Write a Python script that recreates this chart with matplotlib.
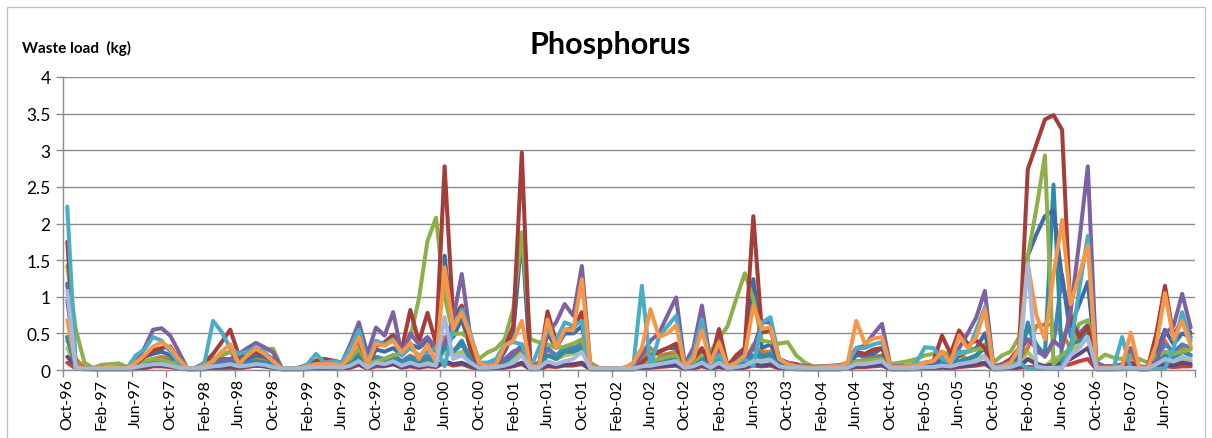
import numpy as np
import matplotlib
matplotlib.use("Agg")
import matplotlib.pyplot as plt
from matplotlib.patches import Rectangle
from matplotlib.ticker import FuncFormatter

plt.rcParams['font.family'] = ['Lato', 'DejaVu Sans']

# Monthly categories Oct-96 .. Sep-07
months = ['Oct', 'Nov', 'Dec', 'Jan', 'Feb', 'Mar', 'Apr', 'May', 'Jun', 'Jul', 'Aug', 'Sep']
categories = []
for wy in range(1996, 2007):
    for k, m in enumerate(months):
        yr = wy if k < 3 else wy + 1
        categories.append(f"{m}-{yr % 100:02d}")

red_low = [
    0.10, 0.02, 0.01, 0.01, 0.01, 0.01, 0.01, 0.01, 0.01, 0.02, 0.05, 0.05,
    0.04, 0.02, 0.01, 0.01, 0.01, 0.02, 0.02, 0.03, 0.02, 0.04, 0.06, 0.05,
    0.03, 0.01, 0.01, 0.01, 0.01, 0.02, 0.02, 0.02, 0.01, 0.03, 0.07, 0.02,
    0.05, 0.05, 0.08, 0.03, 0.05, 0.03, 0.05, 0.04, 0.10, 0.06, 0.08, 0.04,
    0.01, 0.01, 0.02, 0.03, 0.05, 0.08, 0.01, 0.01, 0.05, 0.04, 0.06, 0.06,
    0.08, 0.01, 0.01, 0.01, 0.01, 0.01, 0.01, 0.02, 0.03, 0.04, 0.05, 0.06,
    0.01, 0.02, 0.05, 0.02, 0.04, 0.01, 0.02, 0.03, 0.06, 0.05, 0.06, 0.02,
    0.02, 0.01, 0.01, 0.01, 0.01, 0.01, 0.01, 0.02, 0.04, 0.04, 0.05, 0.06,
    0.01, 0.01, 0.01, 0.01, 0.02, 0.02, 0.03, 0.02, 0.04, 0.05, 0.06, 0.08,
    0.01, 0.01, 0.02, 0.03, 0.04, 0.04, 0.04, 0.05, 0.06, 0.08, 0.12, 0.15,
    0.01, 0.01, 0.01, 0.01, 0.02, 0.01, 0.01, 0.02, 0.05, 0.04, 0.05, 0.05,
]

green_low = [
    0.30, 0.04, 0.02, 0.02, 0.02, 0.02, 0.02, 0.02, 0.04, 0.08, 0.10, 0.10,
    0.08, 0.04, 0.02, 0.02, 0.03, 0.06, 0.10, 0.12, 0.10, 0.12, 0.15, 0.15,
    0.10, 0.02, 0.02, 0.02, 0.03, 0.05, 0.05, 0.05, 0.04, 0.08, 0.15, 0.04,
    0.12, 0.10, 0.15, 0.10, 0.15, 0.10, 0.12, 0.10, 0.25, 0.20, 0.25, 0.15,
    0.03, 0.03, 0.04, 0.08, 0.15, 0.25, 0.02, 0.03, 0.20, 0.15, 0.20, 0.22,
    0.30, 0.02, 0.02, 0.02, 0.02, 0.02, 0.02, 0.05, 0.08, 0.10, 0.12, 0.15,
    0.03, 0.06, 0.12, 0.04, 0.12, 0.02, 0.05, 0.08, 0.15, 0.15, 0.18, 0.06,
    0.04, 0.03, 0.02, 0.02, 0.02, 0.02, 0.02, 0.03, 0.10, 0.10, 0.12, 0.14,
    0.02, 0.02, 0.02, 0.03, 0.04, 0.05, 0.08, 0.06, 0.10, 0.12, 0.15, 0.20,
    0.02, 0.03, 0.04, 0.08, 0.25, 0.10, 0.05, 0.15, 0.20, 0.25, 0.35, 0.42,
    0.02, 0.02, 0.02, 0.03, 0.04, 0.02, 0.02, 0.06, 0.12, 0.10, 0.15, 0.12,
]

purple_low = [
    0.18, 0.06, 0.02, 0.01, 0.01, 0.01, 0.01, 0.01, 0.02, 0.04, 0.06, 0.06,
    0.05, 0.03, 0.01, 0.01, 0.02, 0.03, 0.04, 0.05, 0.04, 0.05, 0.06, 0.05,
    0.03, 0.01, 0.01, 0.01, 0.02, 0.03, 0.03, 0.03, 0.02, 0.04, 0.08, 0.02,
    0.07, 0.06, 0.08, 0.04, 0.06, 0.04, 0.06, 0.05, 0.12, 0.08, 0.10, 0.05,
    0.02, 0.02, 0.02, 0.04, 0.06, 0.10, 0.01, 0.02, 0.06, 0.05, 0.07, 0.08,
    0.10, 0.01, 0.01, 0.01, 0.01, 0.01, 0.01, 0.03, 0.04, 0.05, 0.06, 0.07,
    0.02, 0.03, 0.06, 0.02, 0.05, 0.01, 0.03, 0.04, 0.08, 0.06, 0.08, 0.03,
    0.02, 0.02, 0.01, 0.01, 0.01, 0.01, 0.01, 0.02, 0.05, 0.05, 0.06, 0.07,
    0.01, 0.01, 0.01, 0.02, 0.02, 0.03, 0.04, 0.03, 0.05, 0.06, 0.08, 0.10,
    0.01, 0.02, 0.02, 0.04, 0.15, 0.08, 0.05, 0.08, 0.10, 0.15, 0.22, 0.30,
    0.01, 0.01, 0.01, 0.02, 0.03, 0.01, 0.01, 0.04, 0.08, 0.06, 0.10, 0.08,
]

dark_orange = [
    0.40, 0.15, 0.03, 0.02, 0.02, 0.03, 0.02, 0.02, 0.05, 0.10, 0.15, 0.18,
    0.15, 0.08, 0.02, 0.02, 0.04, 0.08, 0.12, 0.15, 0.08, 0.10, 0.15, 0.12,
    0.07, 0.02, 0.02, 0.02, 0.03, 0.05, 0.05, 0.05, 0.04, 0.10, 0.22, 0.05,
    0.15, 0.15, 0.20, 0.12, 0.20, 0.10, 0.18, 0.10, 0.45, 0.25, 0.35, 0.20,
    0.04, 0.04, 0.05, 0.15, 0.20, 0.30, 0.03, 0.04, 0.30, 0.15, 0.25, 0.25,
    0.40, 0.03, 0.02, 0.02, 0.02, 0.02, 0.04, 0.12, 0.30, 0.20, 0.22, 0.25,
    0.04, 0.08, 0.22, 0.06, 0.18, 0.03, 0.06, 0.10, 0.35, 0.25, 0.25, 0.08,
    0.05, 0.04, 0.03, 0.02, 0.02, 0.03, 0.03, 0.05, 0.25, 0.15, 0.18, 0.20,
    0.02, 0.02, 0.03, 0.04, 0.05, 0.06, 0.10, 0.05, 0.20, 0.15, 0.20, 0.35,
    0.02, 0.04, 0.06, 0.15, 0.30, 0.60, 0.62, 0.62, 0.50, 0.30, 0.50, 0.60,
    0.02, 0.03, 0.03, 0.04, 0.20, 0.02, 0.02, 0.15, 0.40, 0.20, 0.30, 0.20,
]

blue_light = [
    0.45, 0.04, 0.02, 0.02, 0.02, 0.02, 0.02, 0.02, 0.06, 0.10, 0.14, 0.15,
    0.12, 0.06, 0.02, 0.02, 0.04, 0.08, 0.10, 0.12, 0.08, 0.10, 0.12, 0.10,
    0.08, 0.02, 0.02, 0.02, 0.03, 0.05, 0.05, 0.05, 0.04, 0.10, 0.20, 0.05,
    0.18, 0.15, 0.20, 0.12, 0.18, 0.15, 0.20, 0.15, 0.35, 0.25, 0.35, 0.15,
    0.04, 0.04, 0.05, 0.12, 0.25, 0.30, 0.04, 0.04, 0.30, 0.20, 0.30, 0.30,
    0.35, 0.03, 0.02, 0.02, 0.02, 0.02, 0.03, 0.06, 0.12, 0.15, 0.20, 0.20,
    0.04, 0.08, 0.15, 0.05, 0.20, 0.03, 0.08, 0.12, 0.30, 0.20, 0.22, 0.08,
    0.05, 0.04, 0.03, 0.02, 0.02, 0.03, 0.03, 0.04, 0.12, 0.12, 0.15, 0.18,
    0.02, 0.02, 0.03, 0.04, 0.05, 0.06, 0.10, 0.07, 0.12, 0.15, 0.20, 0.30,
    0.02, 0.04, 0.05, 0.10, 0.65, 0.25, 0.20, 0.35, 1.30, 0.45, 0.50, 0.62,
    0.02, 0.03, 0.03, 0.04, 0.05, 0.02, 0.02, 0.15, 0.35, 0.25, 0.35, 0.30,
]

teal = [
    0.45, 0.03, 0.02, 0.02, 0.02, 0.02, 0.02, 0.02, 0.05, 0.08, 0.12, 0.12,
    0.10, 0.05, 0.02, 0.02, 0.04, 0.10, 0.12, 0.12, 0.08, 0.10, 0.12, 0.10,
    0.06, 0.02, 0.02, 0.02, 0.03, 0.06, 0.05, 0.05, 0.04, 0.10, 0.20, 0.05,
    0.15, 0.12, 0.15, 0.10, 0.15, 0.12, 0.15, 0.12, 0.30, 0.25, 0.40, 0.15,
    0.04, 0.04, 0.05, 0.10, 0.20, 0.35, 0.03, 0.05, 0.20, 0.15, 0.25, 0.25,
    0.30, 0.02, 0.02, 0.02, 0.02, 0.02, 0.03, 0.08, 0.10, 0.12, 0.15, 0.18,
    0.04, 0.08, 0.15, 0.05, 0.15, 0.03, 0.06, 0.10, 0.20, 0.18, 0.20, 0.08,
    0.05, 0.04, 0.03, 0.02, 0.02, 0.03, 0.03, 0.04, 0.12, 0.12, 0.15, 0.18,
    0.02, 0.02, 0.03, 0.04, 0.06, 0.07, 0.08, 0.07, 0.12, 0.15, 0.20, 0.30,
    0.02, 0.03, 0.05, 0.10, 0.60, 0.35, 0.20, 2.53, 0.10, 0.35, 0.40, 0.55,
    0.02, 0.03, 0.03, 0.05, 0.05, 0.02, 0.02, 0.10, 0.20, 0.15, 0.25, 0.20,
]

blue = [
    1.18, 0.05, 0.02, 0.02, 0.02, 0.03, 0.03, 0.03, 0.10, 0.18, 0.22, 0.25,
    0.20, 0.10, 0.02, 0.02, 0.06, 0.15, 0.20, 0.25, 0.15, 0.15, 0.20, 0.18,
    0.12, 0.02, 0.02, 0.02, 0.05, 0.08, 0.08, 0.08, 0.06, 0.15, 0.30, 0.07,
    0.28, 0.25, 0.30, 0.20, 0.35, 0.30, 0.40, 0.25, 1.56, 0.45, 0.70, 0.30,
    0.05, 0.06, 0.08, 0.25, 0.50, 1.85, 0.05, 0.05, 0.50, 0.30, 0.50, 0.50,
    0.60, 0.04, 0.02, 0.02, 0.02, 0.03, 0.04, 0.10, 0.20, 0.25, 0.30, 0.30,
    0.05, 0.12, 0.25, 0.08, 0.30, 0.04, 0.12, 0.25, 1.24, 0.30, 0.35, 0.12,
    0.08, 0.06, 0.04, 0.03, 0.03, 0.04, 0.04, 0.06, 0.20, 0.20, 0.22, 0.30,
    0.03, 0.03, 0.04, 0.05, 0.08, 0.10, 0.15, 0.10, 0.20, 0.25, 0.30, 0.50,
    0.03, 0.05, 0.08, 0.20, 1.56, 1.85, 2.10, 2.18, 1.25, 0.60, 0.90, 1.20,
    0.02, 0.04, 0.04, 0.05, 0.08, 0.03, 0.03, 0.25, 0.55, 0.35, 0.50, 0.45,
]

green = [
    1.42, 0.55, 0.10, 0.03, 0.07, 0.08, 0.09, 0.04, 0.05, 0.12, 0.15, 0.14,
    0.10, 0.08, 0.02, 0.03, 0.08, 0.15, 0.20, 0.25, 0.20, 0.20, 0.25, 0.28,
    0.29, 0.03, 0.02, 0.03, 0.07, 0.08, 0.10, 0.10, 0.08, 0.15, 0.30, 0.08,
    0.12, 0.15, 0.20, 0.22, 0.45, 0.97, 1.76, 2.08, 1.00, 0.49, 0.50, 0.42,
    0.15, 0.24, 0.29, 0.42, 0.83, 1.88, 0.42, 0.38, 0.35, 0.30, 0.32, 0.36,
    0.42, 0.10, 0.03, 0.02, 0.02, 0.03, 0.05, 0.10, 0.12, 0.15, 0.18, 0.20,
    0.08, 0.12, 0.20, 0.25, 0.43, 0.60, 0.97, 1.32, 0.97, 0.40, 0.38, 0.36,
    0.38, 0.20, 0.10, 0.05, 0.05, 0.06, 0.07, 0.08, 0.12, 0.12, 0.14, 0.15,
    0.08, 0.10, 0.12, 0.15, 0.20, 0.22, 0.25, 0.20, 0.22, 0.25, 0.28, 0.30,
    0.10, 0.20, 0.25, 0.45, 1.55, 2.20, 2.93, 0.08, 0.20, 0.30, 0.63, 0.68,
    0.12, 0.21, 0.17, 0.15, 0.20, 0.15, 0.10, 0.20, 0.25, 0.22, 0.25, 0.28,
]

red = [
    1.75, 0.05, 0.02, 0.02, 0.03, 0.04, 0.03, 0.03, 0.08, 0.18, 0.27, 0.30,
    0.32, 0.15, 0.02, 0.03, 0.10, 0.22, 0.38, 0.55, 0.20, 0.20, 0.25, 0.22,
    0.15, 0.02, 0.02, 0.03, 0.07, 0.13, 0.15, 0.13, 0.10, 0.25, 0.40, 0.10,
    0.33, 0.38, 0.48, 0.28, 0.82, 0.38, 0.78, 0.36, 2.78, 0.72, 0.88, 0.29,
    0.06, 0.08, 0.12, 0.30, 0.60, 2.97, 0.05, 0.05, 0.80, 0.38, 0.55, 0.56,
    0.79, 0.05, 0.02, 0.02, 0.02, 0.03, 0.05, 0.10, 0.20, 0.25, 0.30, 0.36,
    0.06, 0.15, 0.30, 0.10, 0.56, 0.05, 0.20, 0.30, 2.10, 0.51, 0.55, 0.15,
    0.10, 0.08, 0.05, 0.04, 0.04, 0.05, 0.05, 0.08, 0.25, 0.22, 0.28, 0.30,
    0.04, 0.04, 0.05, 0.06, 0.10, 0.12, 0.47, 0.22, 0.54, 0.35, 0.40, 0.30,
    0.04, 0.08, 0.15, 0.30, 2.74, 3.08, 3.42, 3.48, 3.28, 0.72, 0.45, 0.60,
    0.03, 0.05, 0.05, 0.06, 0.10, 0.03, 0.04, 0.50, 1.15, 0.45, 0.70, 0.50,
]

purple = [
    0.95, 0.06, 0.03, 0.02, 0.03, 0.03, 0.03, 0.03, 0.10, 0.30, 0.55, 0.57,
    0.47, 0.25, 0.02, 0.03, 0.08, 0.12, 0.15, 0.15, 0.22, 0.30, 0.37, 0.31,
    0.24, 0.02, 0.02, 0.03, 0.06, 0.08, 0.10, 0.10, 0.10, 0.35, 0.65, 0.22,
    0.58, 0.47, 0.79, 0.22, 0.50, 0.35, 0.45, 0.30, 0.35, 0.70, 1.31, 0.45,
    0.10, 0.06, 0.10, 0.15, 0.25, 0.30, 0.05, 0.10, 0.50, 0.65, 0.90, 0.74,
    1.42, 0.06, 0.02, 0.02, 0.02, 0.03, 0.05, 0.20, 0.40, 0.50, 0.75, 0.99,
    0.08, 0.30, 0.88, 0.10, 0.30, 0.05, 0.10, 0.15, 0.30, 0.65, 0.65, 0.15,
    0.10, 0.06, 0.05, 0.04, 0.05, 0.05, 0.06, 0.10, 0.30, 0.33, 0.49, 0.63,
    0.05, 0.05, 0.06, 0.07, 0.10, 0.12, 0.20, 0.15, 0.30, 0.50, 0.72, 1.08,
    0.05, 0.08, 0.12, 0.25, 0.42, 0.30, 0.18, 0.40, 0.30, 0.80, 1.75, 2.78,
    0.10, 0.05, 0.05, 0.08, 0.30, 0.05, 0.04, 0.10, 0.50, 0.60, 1.04, 0.58,
]

cyan = [
    2.23, 0.02, 0.02, 0.02, 0.02, 0.02, 0.02, 0.03, 0.20, 0.28, 0.45, 0.40,
    0.25, 0.10, 0.02, 0.02, 0.10, 0.67, 0.52, 0.30, 0.22, 0.25, 0.30, 0.25,
    0.12, 0.02, 0.02, 0.02, 0.08, 0.22, 0.10, 0.12, 0.10, 0.30, 0.55, 0.10,
    0.40, 0.35, 0.42, 0.20, 0.30, 0.20, 0.25, 0.30, 0.05, 0.55, 0.83, 0.50,
    0.10, 0.10, 0.15, 0.35, 0.38, 0.35, 0.02, 0.30, 0.55, 0.40, 0.65, 0.60,
    0.67, 0.03, 0.02, 0.02, 0.02, 0.02, 0.05, 1.15, 0.05, 0.45, 0.60, 0.74,
    0.05, 0.20, 0.69, 0.08, 0.20, 0.04, 0.10, 0.15, 0.05, 0.65, 0.72, 0.15,
    0.08, 0.05, 0.04, 0.03, 0.03, 0.04, 0.05, 0.08, 0.30, 0.30, 0.35, 0.38,
    0.03, 0.03, 0.05, 0.10, 0.31, 0.30, 0.15, 0.10, 0.25, 0.25, 0.55, 0.86,
    0.03, 0.05, 0.08, 0.10, 0.02, 0.02, 0.02, 0.02, 0.05, 0.30, 1.10, 1.83,
    0.02, 0.03, 0.03, 0.45, 0.02, 0.02, 0.02, 0.02, 0.02, 0.30, 0.79, 0.40,
]

orange = [
    0.68, 0.05, 0.02, 0.02, 0.03, 0.05, 0.03, 0.03, 0.10, 0.20, 0.32, 0.38,
    0.30, 0.15, 0.02, 0.02, 0.06, 0.12, 0.25, 0.35, 0.08, 0.20, 0.29, 0.22,
    0.12, 0.02, 0.02, 0.02, 0.05, 0.08, 0.08, 0.08, 0.06, 0.20, 0.45, 0.08,
    0.36, 0.33, 0.40, 0.24, 0.37, 0.15, 0.35, 0.10, 1.40, 0.56, 0.78, 0.46,
    0.10, 0.05, 0.08, 0.33, 0.40, 0.67, 0.05, 0.05, 0.69, 0.30, 0.55, 0.54,
    1.24, 0.05, 0.02, 0.02, 0.02, 0.03, 0.10, 0.30, 0.83, 0.45, 0.50, 0.61,
    0.05, 0.15, 0.54, 0.10, 0.38, 0.05, 0.10, 0.20, 0.88, 0.56, 0.58, 0.15,
    0.08, 0.05, 0.04, 0.03, 0.04, 0.05, 0.05, 0.10, 0.67, 0.36, 0.43, 0.45,
    0.04, 0.04, 0.05, 0.06, 0.10, 0.12, 0.25, 0.10, 0.47, 0.30, 0.45, 0.83,
    0.03, 0.05, 0.10, 0.30, 1.45, 0.75, 0.42, 1.30, 2.05, 0.90, 1.30, 1.70,
    0.03, 0.03, 0.03, 0.05, 0.51, 0.03, 0.03, 0.35, 1.05, 0.42, 0.67, 0.33,
]

light_steel = [
    1.08, 0.02, 0.02, 0.02, 0.02, 0.02, 0.02, 0.02, 0.04, 0.06, 0.08, 0.08,
    0.06, 0.03, 0.02, 0.02, 0.03, 0.05, 0.06, 0.08, 0.05, 0.06, 0.08, 0.07,
    0.04, 0.02, 0.02, 0.02, 0.03, 0.04, 0.04, 0.04, 0.03, 0.06, 0.12, 0.03,
    0.10, 0.08, 0.12, 0.06, 0.10, 0.06, 0.08, 0.06, 0.72, 0.15, 0.20, 0.10,
    0.03, 0.03, 0.04, 0.06, 0.10, 0.20, 0.02, 0.03, 0.12, 0.08, 0.12, 0.15,
    0.25, 0.02, 0.02, 0.02, 0.02, 0.02, 0.02, 0.05, 0.06, 0.08, 0.10, 0.12,
    0.03, 0.05, 0.10, 0.03, 0.10, 0.02, 0.04, 0.06, 0.12, 0.12, 0.14, 0.05,
    0.03, 0.03, 0.02, 0.02, 0.02, 0.02, 0.02, 0.03, 0.08, 0.08, 0.10, 0.12,
    0.02, 0.02, 0.02, 0.03, 0.04, 0.04, 0.06, 0.05, 0.08, 0.10, 0.12, 0.18,
    0.02, 0.03, 0.04, 0.08, 1.45, 0.05, 0.03, 0.03, 0.02, 0.20, 0.30, 0.45,
    0.02, 0.02, 0.02, 0.03, 0.03, 0.02, 0.02, 0.08, 0.15, 0.12, 0.18, 0.15,
]

series = [
    (red_low, '#C8403C'),
    (green_low, '#A9C46A'),
    (purple_low, '#5F497A'),
    (dark_orange, '#E07B1E'),
    (blue_light, '#4F81BD'),
    (teal, '#2E8CA6'),
    (blue, '#3C6BA7'),
    (green, '#8EB04C'),
    (red, '#A53D3A'),
    (purple, '#7D61A0'),
    (cyan, '#48ADC7'),
    (orange, '#F79646'),
    (light_steel, '#A6B9DA'),
]

yticks = [0, 0.5, 1, 1.5, 2, 2.5, 3, 3.5, 4]
title = 'Phosphorus'
ylabel = 'Waste load  (kg)'

W, H = 1212, 439
fig = plt.figure(figsize=(W / 100, H / 100), dpi=100)
fig.patch.set_facecolor('white')
fig.patches.append(Rectangle((7 / W, -0.05), (1205 - 7) / W, 1.05 - 8 / H,
                             transform=fig.transFigure, fill=False,
                             edgecolor='#BFBFBF', linewidth=0.9))

ax = fig.add_axes([63 / W, 1 - 371 / H, (1195 - 63) / W, (371 - 78) / H])
x = np.arange(len(categories))
for vals, col in series:
    ax.plot(x, vals, color=col, linewidth=2.9, solid_joinstyle='round',
            solid_capstyle='round', clip_on=False)

ax.set_xlim(-0.5, len(categories) - 0.5)
ax.set_ylim(0, 4)
ax.set_yticks(yticks)
ax.yaxis.set_major_formatter(FuncFormatter(lambda v, p: f"{v:g}"))
ax.grid(axis='y', color='#8C8C8C', linewidth=1.0)
ax.set_axisbelow(True)

ax.set_xticks(x[::4])
ax.set_xticklabels(categories[::4], rotation=90, fontsize=11.5)
ax.set_xticks(np.arange(-0.5, len(categories), 4), minor=True)
ax.tick_params(axis='x', which='major', length=0, pad=6)
ax.tick_params(axis='x', which='minor', length=5, color='#8C8C8C', width=1.0)
ax.tick_params(axis='y', length=5, color='#8C8C8C', width=1.0, labelsize=12.5, pad=4)

for s in ['top', 'right']:
    ax.spines[s].set_visible(False)
for s in ['left', 'bottom']:
    ax.spines[s].set_color('#8C8C8C')
    ax.spines[s].set_linewidth(1.0)

fig.text(610 / W, 1 - 45 / H, title, ha='center', va='center',
         fontsize=22, fontweight='bold')
fig.text(22 / W, 1 - 48 / H, ylabel, ha='left', va='center',
         fontsize=11, fontweight='bold')

fig.savefig('out.png', dpi=100, facecolor='white')
